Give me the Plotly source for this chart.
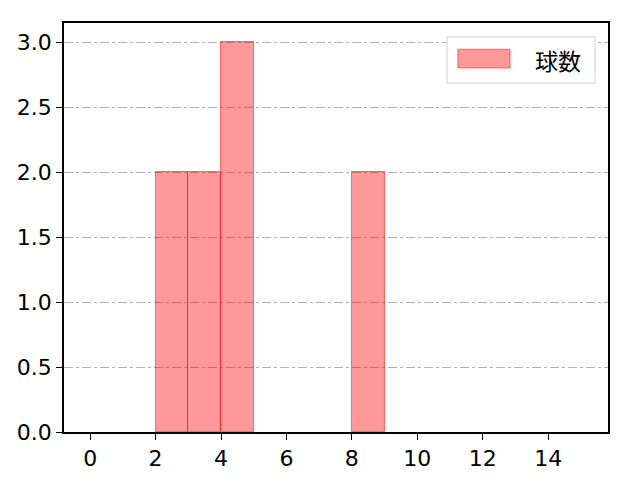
import plotly.graph_objects as go

# 球数 histogram, bin width 1
bin_left = [2, 3, 4, 8]
counts = [2, 2, 3, 2]
x_ticks = [0, 2, 4, 6, 8, 10, 12, 14]
y_ticks = [0.0, 0.5, 1.0, 1.5, 2.0, 2.5, 3.0]
series_name = "球数"

fill = "rgba(255,0,0,0.4)"
edge = "rgba(255,0,0,0.5)"
FONT = "Noto Sans CJK JP"
TICKFONT = "DejaVu Sans"

fig = go.Figure()
fig.add_trace(go.Bar(
    x=[b + 0.5 for b in bin_left],
    y=counts,
    width=1,
    name=series_name,
    marker=dict(color=fill, line=dict(color=edge, width=1)),
    showlegend=False,
))

axis_common = dict(
    showline=True, linecolor="black", linewidth=1.5, mirror=True,
    ticks="outside", ticklen=6, tickwidth=1.2, tickcolor="black",
    zeroline=False, automargin=False,
    tickfont=dict(family=TICKFONT, size=22, color="black"),
)

fig.update_xaxes(range=[-0.8, 15.83], tickvals=x_ticks,
                 ticktext=[str(v) for v in x_ticks], showgrid=False, **axis_common)
fig.update_yaxes(range=[0, 3.15], tickvals=y_ticks,
                 ticktext=[f"{v:.1f}" for v in y_ticks], showgrid=True,
                 gridcolor="#b0b0b0", griddash="dashdot", gridwidth=1, **axis_common)

# legend drawn by hand (matplotlib style box)
fig.add_shape(type="rect", xref="paper", yref="paper",
              x0=0.704, x1=0.976, y0=0.853, y1=0.966,
              line=dict(color="#d0d0d0", width=1), fillcolor="white", layer="above")
fig.add_shape(type="rect", xref="paper", yref="paper",
              x0=0.724, x1=0.820, y0=0.890, y1=0.936,
              line=dict(color=edge, width=1), fillcolor=fill, layer="above")
fig.add_annotation(x=0.862, y=0.9095, xref="paper", yref="paper",
                   text=series_name, showarrow=False, xanchor="left", yanchor="middle",
                   font=dict(family=FONT, size=23, color="black"))

fig.update_layout(
    width=640, height=480,
    margin=dict(l=56, r=40, t=15, b=56),
    plot_bgcolor="white", paper_bgcolor="white",
    font=dict(family=FONT, size=22, color="black"),
    bargap=0,
)

fig.write_html("out.html")
